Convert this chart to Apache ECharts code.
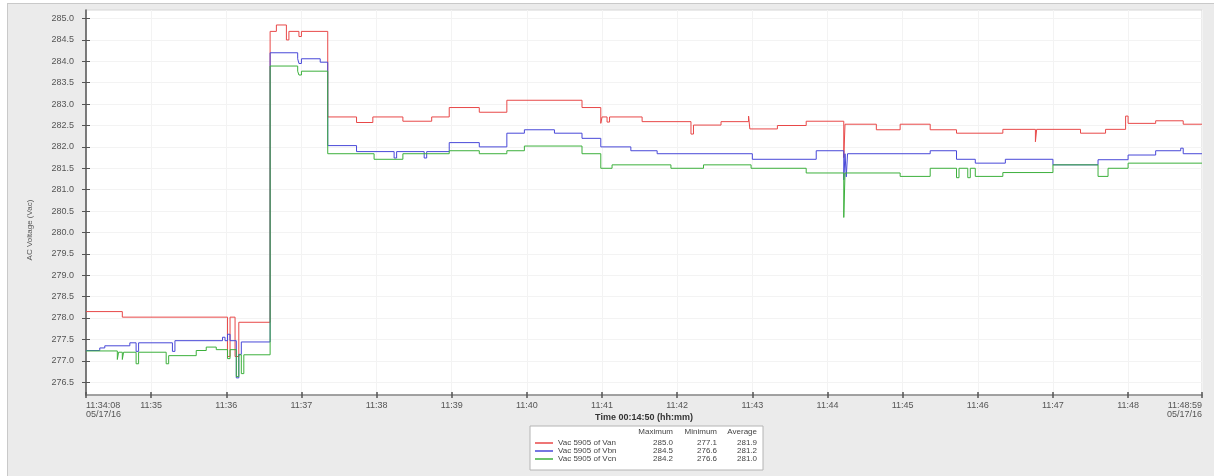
<!DOCTYPE html>
<html>
<head>
<meta charset="utf-8">
<script src="https://cdn.jsdelivr.net/npm/echarts@6/dist/echarts.min.js"></script>
<style>
  html, body { margin: 0; padding: 0; background: #ffffff; }
  #panel { position: absolute; left: 7px; top: 3px; width: 1206px; height: 472px;
           background: #ebebeb; border-left: 1px solid #c9c9c9; border-top: 1px solid #c9c9c9; }
  #chart { position: absolute; left: 0; top: 0; width: 1214px; height: 476px; }
</style>
</head>
<body>
<div id="panel"></div>
<div id="chart"></div>
<script>
// Phase voltages (Vac), logged on change: each time starts a new held value.
const vanTimes = ['11:34:08','11:34:37','11:36:01','11:36:03','11:36:07','11:36:10','11:36:35','11:36:40','11:36:48','11:36:50',
  '11:36:58','11:37:00','11:37:21','11:37:44','11:37:57','11:38:21','11:38:44','11:38:58','11:39:22','11:39:44',
  '11:40:44','11:40:59','11:41:00','11:41:04','11:41:06','11:41:32','11:42:11','11:42:13','11:42:35','11:42:57',
  '11:42:58','11:43:20','11:43:43','11:44:13','11:44:14','11:44:39','11:44:58','11:45:22','11:45:43','11:46:20',
  '11:46:46','11:46:47','11:47:22','11:47:42','11:47:58','11:48:00','11:48:22','11:48:44','11:48:59'];
const vanValues = [278.15,278.02,277.10,278.02,277.10,277.90,284.70,284.85,284.50,284.70,
  284.58,284.70,282.70,282.57,282.70,282.60,282.70,282.92,282.81,283.09,
  282.92,282.55,282.70,282.58,282.70,282.59,282.30,282.51,282.59,282.72,
  282.42,282.50,282.60,281.75,282.53,282.40,282.53,282.40,282.32,282.41,
  282.12,282.41,282.32,282.41,282.72,282.55,282.61,282.53,282.53];

const vbnTimes = ['11:34:08','11:34:19','11:34:23','11:34:43','11:34:48','11:34:50','11:35:17','11:35:19','11:35:57','11:35:59',
  '11:36:01','11:36:03','11:36:08','11:36:10','11:36:12','11:36:35','11:36:57','11:36:58','11:37:00','11:37:15',
  '11:37:21','11:37:44','11:38:14','11:38:16','11:38:38','11:38:40','11:38:58','11:39:22','11:39:44','11:39:58',
  '11:40:22','11:40:44','11:40:59','11:41:23','11:41:44','11:43:00','11:43:51','11:44:13','11:44:14','11:44:15',
  '11:44:16','11:45:22','11:45:43','11:45:58','11:46:22','11:47:00','11:47:36','11:48:00','11:48:22','11:48:42',
  '11:48:44','11:48:59'];
const vbnValues = [277.24,277.30,277.35,277.42,277.22,277.42,277.22,277.47,277.55,277.47,
  277.62,277.47,276.60,277.15,277.44,284.20,284.06,283.95,284.06,283.98,
  282.03,281.89,281.74,281.89,281.74,281.89,282.10,282.00,282.32,282.40,
  282.32,282.20,282.00,281.91,281.84,281.71,281.91,281.23,281.84,281.30,
  281.84,281.91,281.71,281.62,281.71,281.58,281.70,281.81,281.91,281.97,
  281.84,281.84];

const vcnTimes = ['11:34:08','11:34:33','11:34:34','11:34:37','11:34:38','11:34:48','11:34:50','11:35:12','11:35:14','11:35:36',
  '11:35:44','11:35:52','11:36:01','11:36:03','11:36:08','11:36:10','11:36:12','11:36:14','11:36:35','11:36:57',
  '11:36:58','11:37:00','11:37:21','11:37:58','11:38:21','11:38:58','11:39:22','11:39:44','11:39:58','11:40:44',
  '11:40:59','11:41:08','11:41:55','11:42:21','11:42:59','11:43:43','11:44:13','11:44:14','11:44:58','11:45:22',
  '11:45:43','11:45:45','11:45:52','11:45:54','11:45:58','11:46:20','11:47:00','11:47:36','11:47:44','11:48:00',
  '11:48:59'];
const vcnValues = [277.23,277.03,277.20,277.03,277.20,276.93,277.20,276.93,277.12,277.24,
  277.32,277.26,277.05,277.26,276.63,277.14,276.70,277.14,283.89,283.77,
  283.68,283.77,281.84,281.71,281.84,281.91,281.84,281.91,282.02,281.84,
  281.50,281.58,281.50,281.58,281.50,281.39,280.35,281.39,281.31,281.50,
  281.28,281.50,281.28,281.50,281.31,281.40,281.58,281.31,281.50,281.62,
  281.62];

const seriesNames = ['Vac 5905 of Van', 'Vac 5905 of Vbn', 'Vac 5905 of Vcn'];
const seriesColors = ['#e84848', '#4848d8', '#3cb03c'];
const statMaximum = ['285.0', '284.5', '284.2'];
const statMinimum = ['277.1', '276.6', '276.6'];
const statAverage = ['281.9', '281.2', '281.0'];

const yTicks = [276.5, 277.0, 277.5, 278.0, 278.5, 279.0, 279.5, 280.0, 280.5,
  281.0, 281.5, 282.0, 282.5, 283.0, 283.5, 284.0, 284.5, 285.0];
const xTickTimes = ['11:34:08','11:35','11:36','11:37','11:38','11:39','11:40','11:41',
  '11:42','11:43','11:44','11:45','11:46','11:47','11:48','11:48:59'];
const xTickLabels = ['11:34:08\n05/17/16','11:35','11:36','11:37','11:38','11:39','11:40','11:41',
  '11:42','11:43','11:44','11:45','11:46','11:47','11:48','11:48:59\n05/17/16'];

function toSec(t) {
  const p = t.split(':').map(Number);
  return p[0] * 3600 + p[1] * 60 + (p[2] || 0);
}

const xTickValues = xTickTimes.map(toSec);
const xMin = xTickValues[0];
const xMax = xTickValues[xTickValues.length - 1];
const FONT = 'Liberation Sans, Arial, sans-serif';

const seriesTimes = [vanTimes, vbnTimes, vcnTimes];
const seriesValues = [vanValues, vbnValues, vcnValues];

const series = seriesNames.map((name, i) => ({
  name: name,
  type: 'line',
  step: 'end',
  showSymbol: false,
  xAxisIndex: 0,
  yAxisIndex: 0,
  color: seriesColors[i],
  lineStyle: { width: 1, color: seriesColors[i] },
  data: seriesTimes[i].map((t, k) => [toSec(t), seriesValues[i][k]])
}));

const chart = echarts.init(document.getElementById('chart'), null, { renderer: 'canvas' });

const xBase = {
  type: 'value', gridIndex: 0, min: xMin, max: xMax, position: 'bottom'
};
const yBase = {
  type: 'value', gridIndex: 0, min: 276.2, max: 285.2, position: 'left'
};

// column headers of the statistics legend
const headerText = (x, text) => ({
  type: 'text', x: x, y: 432, z: 100,
  style: { text: text, fontFamily: FONT, fontSize: 8, fill: '#444', align: 'right', verticalAlign: 'middle' }
});

chart.setOption({
  animation: false,
  backgroundColor: 'transparent',
  textStyle: { fontFamily: FONT },
  grid: {
    left: 86, right: 12, top: 10, bottom: 81,
    show: true, backgroundColor: '#ffffff', borderColor: '#d6d6d6', borderWidth: 1
  },
  xAxis: [
    Object.assign({}, xBase, {
      name: 'Time 00:14:50 (hh:mm)',
      nameLocation: 'middle',
      nameGap: 18,
      nameMoveOverlap: false,
      nameTextStyle: { fontFamily: FONT, fontSize: 9, fontWeight: 'bold', color: '#333' },
      axisLine: { show: true, lineStyle: { color: '#8a8a8a', width: 1.5 } },
      axisTick: { show: true, customValues: xTickValues, length: 3, lineStyle: { color: '#555', width: 1.5 } },
      axisLabel: {
        customValues: xTickValues,
        showMinLabel: true, showMaxLabel: true,
        alignMinLabel: 'left', alignMaxLabel: 'right',
        margin: 6, fontSize: 9, lineHeight: 9, color: '#555', fontFamily: FONT,
        formatter: v => {
          const k = xTickValues.indexOf(Math.round(v));
          return k >= 0 ? xTickLabels[k] : '';
        }
      },
      splitLine: { show: true, lineStyle: { color: '#f3f3f3', width: 1 } }
    }),
    Object.assign({}, xBase, {
      axisLine: { show: false },
      axisTick: { show: true, inside: true, customValues: xTickValues, length: 3, lineStyle: { color: '#555', width: 1.5 } },
      axisLabel: { show: false },
      splitLine: { show: false }
    })
  ],
  yAxis: [
    Object.assign({}, yBase, {
      axisLine: { show: true, lineStyle: { color: '#555', width: 1.5 } },
      axisTick: { show: true, customValues: yTicks, length: 4, lineStyle: { color: '#555', width: 1 } },
      axisLabel: {
        customValues: yTicks,
        margin: 12, fontSize: 9, color: '#555', fontFamily: FONT,
        formatter: v => v.toFixed(1)
      },
      splitLine: { show: true, lineStyle: { color: '#f3f3f3', width: 1 } }
    }),
    Object.assign({}, yBase, {
      axisLine: { show: false },
      axisTick: { show: true, inside: true, customValues: yTicks, length: 4, lineStyle: { color: '#555', width: 1 } },
      axisLabel: { show: false },
      splitLine: { show: false }
    })
  ],
  legend: {
    data: seriesNames,
    orient: 'vertical',
    left: 530,
    top: 426,
    padding: [13, 6, 7, 5],
    itemGap: 0,
    itemWidth: 18,
    itemHeight: 1.5,
    icon: 'rect',
    selectedMode: false,
    backgroundColor: '#ffffff',
    borderColor: '#b4b4b4',
    borderWidth: 1,
    formatter: name => {
      const i = seriesNames.indexOf(name);
      return '{n|' + name + '}{a|' + statMaximum[i] + '}{b|' + statMinimum[i] + '}{c|' + statAverage[i] + '}';
    },
    textStyle: {
      fontFamily: FONT, fontSize: 8, lineHeight: 8, color: '#444',
      rich: {
        n: { width: 72, fontSize: 8, lineHeight: 8, fontFamily: FONT, color: '#444' },
        a: { width: 43, align: 'right', fontSize: 8, lineHeight: 8, fontFamily: FONT, color: '#444' },
        b: { width: 44, align: 'right', fontSize: 8, lineHeight: 8, fontFamily: FONT, color: '#444' },
        c: { width: 40, align: 'right', fontSize: 8, lineHeight: 8, fontFamily: FONT, color: '#444' }
      }
    }
  },
  graphic: [
    {
      type: 'text', x: 30, y: 230, rotation: Math.PI / 2, z: 100,
      style: { text: 'AC Voltage (Vac)', fontFamily: FONT, fontSize: 8, fill: '#555',
               align: 'center', verticalAlign: 'middle' }
    },
    headerText(673, 'Maximum'),
    headerText(717, 'Minimum'),
    headerText(757, 'Average')
  ],
  series: series
});
</script>
</body>
</html>
